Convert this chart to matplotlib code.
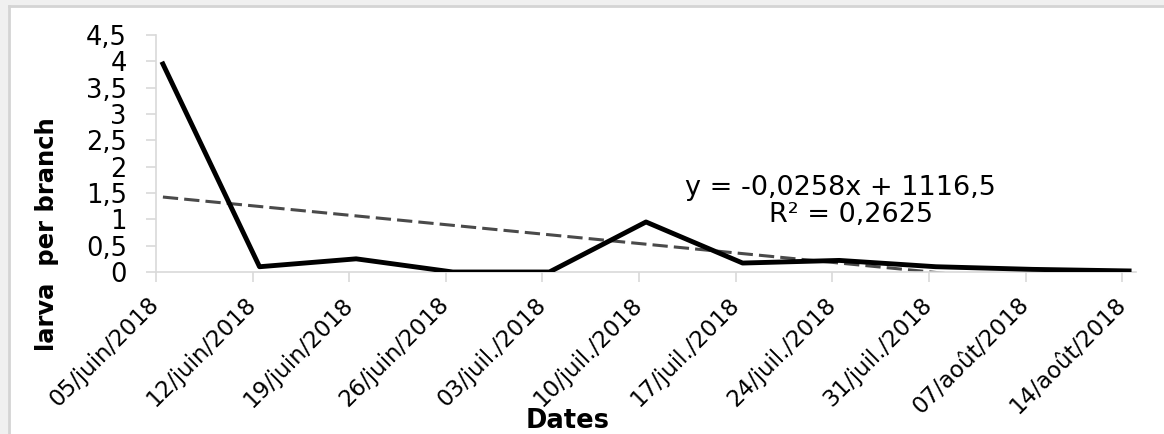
import datetime as dt
import matplotlib
matplotlib.use("Agg")
import matplotlib.pyplot as plt
import matplotlib.dates as mdates
import matplotlib.transforms as mtransforms
import numpy as np
from matplotlib.patches import Rectangle
from matplotlib.lines import Line2D

plt.rcParams["font.family"] = ["DejaVu Sans"]

# sampling dates (weekly) and larvae counts
dates = [dt.date(2018, 6, 5) + dt.timedelta(days=7 * i) for i in range(11)]
date_labels = ["05/juin/2018", "12/juin/2018", "19/juin/2018", "26/juin/2018",
               "03/juil./2018", "10/juil./2018", "17/juil./2018", "24/juil./2018",
               "31/juil./2018", "07/août/2018", "14/août/2018"]
larva = [3.95, 0.1, 0.25, 0.0, 0.0, 0.95, 0.17, 0.22, 0.1, 0.05, 0.02]
y_ticks = [0, 0.5, 1, 1.5, 2, 2.5, 3, 3.5, 4, 4.5]
y_tick_labels = ["0", "0,5", "1", "1,5", "2", "2,5", "3", "3,5", "4", "4,5"]
eq_line = "y = -0,0258x + 1116,5"
r2_line = "R² = 0,2625"

W, H = 1164, 434
fig = plt.figure(figsize=(W / 100, H / 100), dpi=100)
fig.patch.set_facecolor("#f0f0f0")
fig.patches.append(Rectangle((9 / W, 0), 1, (H - 6) / H, transform=fig.transFigure,
                             facecolor="white", edgecolor="none", zorder=-10))
fig.lines.append(Line2D([9 / W, 1], [(H - 6) / H] * 2, transform=fig.transFigure,
                        color="#d4d4d4", lw=2, zorder=-5))
fig.lines.append(Line2D([9 / W] * 2, [0, (H - 6) / H], transform=fig.transFigure,
                        color="#d4d4d4", lw=2, zorder=-5))

ax = fig.add_axes([156 / W, (H - 272) / H, (1136 - 156) / W, (272 - 35) / H])
ax.set_facecolor("none")

# points sit in the middle of each day (Excel date axis)
xs = mdates.date2num(dates) + 0.5
ax.plot(xs, larva, color="black", lw=3.5, zorder=3)

coef = np.polyfit(xs, larva, 1)
trend = np.polyval(coef, xs)
ax.plot(xs, trend, color="#4a4a4a", lw=2.2, dashes=(5, 2), zorder=2)

ticks = mdates.date2num(dates)
ax.set_xticks(ticks)
ax.set_xticklabels(date_labels, rotation=45, ha="right", va="center",
                   rotation_mode="anchor", fontsize=16.5)
ax.set_xlim(ticks[0], ticks[-1] + 1)
ax.set_ylim(0, 4.5)
ax.set_yticks(y_ticks)
ax.set_yticklabels(y_tick_labels, fontsize=18.5)
shift = mtransforms.ScaledTranslation(0.10, 0, fig.dpi_scale_trans)
for lbl in ax.get_xticklabels():
    lbl.set_transform(lbl.get_transform() + shift)

for s in ["top", "right"]:
    ax.spines[s].set_visible(False)
for s in ["left", "bottom"]:
    ax.spines[s].set_color("#d9d9d9")
    ax.spines[s].set_linewidth(1.2)
ax.tick_params(axis="both", color="#d9d9d9", length=7, width=1.2)
ax.tick_params(axis="y", pad=14)
ax.tick_params(axis="x", pad=14)

fig.text(47 / W, (H - 234) / H, "larva  per branch", fontsize=17.5, fontweight="bold",
         rotation=90, ha="center", va="center")
fig.text(568 / W, (H - 421) / H, "Dates", fontsize=18.5, fontweight="bold",
         ha="center", va="center")
fig.text(840 / W, (H - 188) / H, eq_line, fontsize=19.5, ha="center", va="center")
fig.text(851 / W, (H - 215) / H, r2_line, fontsize=19.5, ha="center", va="center")

fig.savefig("out.png", dpi=100)
